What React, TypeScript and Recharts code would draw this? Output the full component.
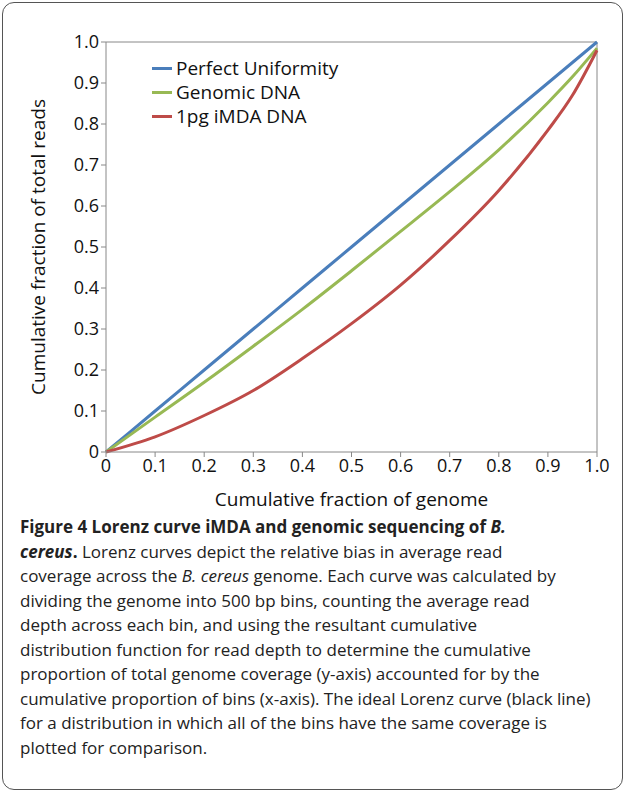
import { LineChart, Line, XAxis, YAxis, ReferenceLine } from "recharts"

const xs = [0, 0.1, 0.2, 0.3, 0.4, 0.5, 0.6, 0.7, 0.8, 0.9, 0.95, 1.0]
const uniform = [0, 0.1, 0.2, 0.3, 0.4, 0.5, 0.6, 0.7, 0.8, 0.9, 0.95, 1.0]
const genomic = [0, 0.085, 0.17, 0.258, 0.348, 0.442, 0.538, 0.635, 0.737, 0.852, 0.915, 0.985]
const imda = [0, 0.037, 0.089, 0.15, 0.228, 0.313, 0.407, 0.516, 0.638, 0.785, 0.87, 0.98]
const ticks = [0, 0.1, 0.2, 0.3, 0.4, 0.5, 0.6, 0.7, 0.8, 0.9, 1.0]
const series = [
  { key: "uniform", name: "Perfect Uniformity", color: "#4a7ebb" },
  { key: "genomic", name: "Genomic DNA", color: "#98b954" },
  { key: "imda", name: "1pg iMDA DNA", color: "#be4b48" },
]

const data = xs.map((x, i) => ({ x, uniform: uniform[i], genomic: genomic[i], imda: imda[i] }))

const fmt = (v: number) => (v === 0 ? "0" : v.toFixed(1))
const font = "'Open Sans', sans-serif"

export default function App() {
  return (
    <div style={{ position: "absolute", left: 0, top: 0, width: 625, height: 792, fontFamily: font, background: "#fff" }}>
      <div style={{ position: "absolute", left: 2, top: 2, width: 619, height: 786, border: "1.5px solid #555", borderRadius: 12 }} />
      <div style={{ position: "absolute", left: 0, top: 0 }}>
        <LineChart width={625} height={512} data={data} margin={{ top: 42, right: 28, left: 0, bottom: 0 }}>
          <XAxis
            dataKey="x"
            type="number"
            domain={[0, 1]}
            ticks={ticks}
            tickFormatter={fmt}
            height={60}
            stroke="#888"
            tick={{ fill: "#111", fontSize: 18 }}
            tickSize={5}
            label={{ value: "Cumulative fraction of genome", position: "insideBottom", offset: 6, fill: "#111", fontSize: 19 }}
          />
          <YAxis
            type="number"
            domain={[0, 1]}
            ticks={ticks}
            tickFormatter={fmt}
            width={106}
            stroke="#888"
            tick={{ fill: "#111", fontSize: 18 }}
            tickSize={5}
            label={{ value: "Cumulative fraction of total reads", angle: -90, position: "insideLeft", offset: 38, fill: "#111", fontSize: 19, style: { textAnchor: "middle" } }}
          />
          <ReferenceLine y={1} stroke="#888" />
          <ReferenceLine x={1} stroke="#888" />
          {series.map((s) => (
            <Line key={s.key} dataKey={s.key} type="monotone" stroke={s.color} strokeWidth={3} dot={false} isAnimationActive={false} />
          ))}
        </LineChart>
      </div>
      <div style={{ position: "absolute", left: 152, top: 56, fontSize: 19, color: "#111", lineHeight: "24px" }}>
        {series.map((s) => (
          <div key={s.key} style={{ display: "flex", alignItems: "center" }}>
            <span style={{ width: 20, height: 3, background: s.color, marginRight: 4 }} />
            {s.name}
          </div>
        ))}
      </div>
      <div style={{ position: "absolute", left: 20, top: 515, fontSize: 17, lineHeight: "24.5px", color: "#222", whiteSpace: "nowrap" }}>
        <div><b>Figure 4 Lorenz curve iMDA and genomic sequencing of <i>B.</i></b></div>
        <div><b><i>cereus</i>.</b> Lorenz curves depict the relative bias in average read</div>
        <div>coverage across the <i>B. cereus</i> genome. Each curve was calculated by</div>
        <div>dividing the genome into 500 bp bins, counting the average read</div>
        <div>depth across each bin, and using the resultant cumulative</div>
        <div>distribution function for read depth to determine the cumulative</div>
        <div>proportion of total genome coverage (y-axis) accounted for by the</div>
        <div>cumulative proportion of bins (x-axis). The ideal Lorenz curve (black line)</div>
        <div>for a distribution in which all of the bins have the same coverage is</div>
        <div>plotted for comparison.</div>
      </div>
    </div>
  )
}
